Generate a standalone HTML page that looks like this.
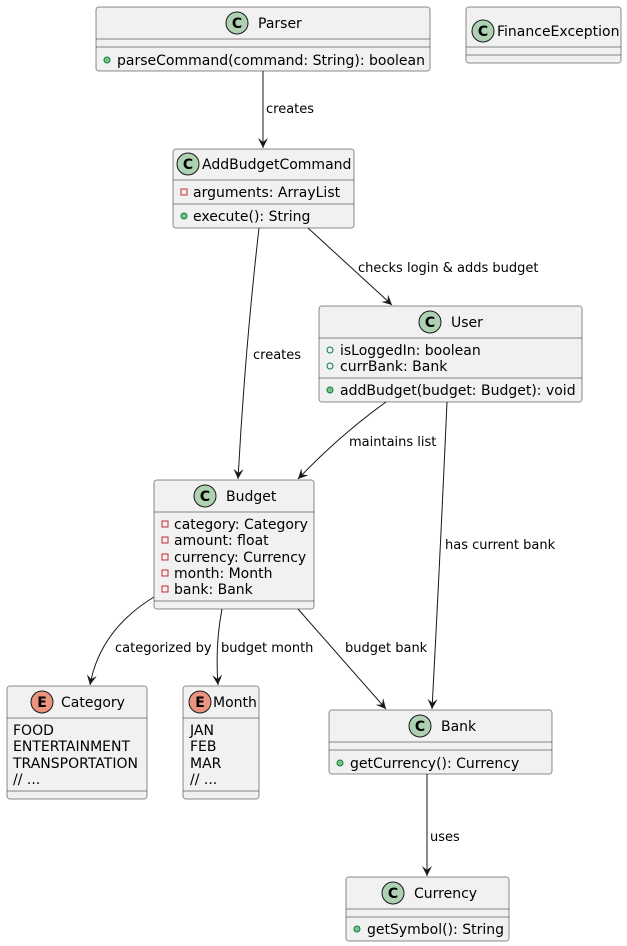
<!DOCTYPE html>
<html><head><meta charset="utf-8"><style>
html,body{margin:0;padding:0;background:#fff;}
svg{display:block;font-family:"DejaVu Sans","Liberation Sans",sans-serif;}
.b{fill:#F1F1F1;stroke:#181818;stroke-width:0.5;}
.l{stroke:#181818;stroke-width:0.5;}
.t{font-size:14px;fill:#000;}
.e{font-size:13px;fill:#000;}
.c{stroke:#181818;stroke-width:1;fill:none;}
.a{fill:#181818;stroke:#181818;stroke-width:1;}
.pub{fill:#84BE84;stroke:#038048;stroke-width:1;}
.pubo{fill:none;stroke:#038048;stroke-width:1;}
.priv{fill:none;stroke:#C82930;stroke-width:1;}
</style></head><body>
<svg width="627" height="946" viewBox="0 0 627 946" xmlns="http://www.w3.org/2000/svg">
<defs>
<marker id="ar" markerWidth="12" markerHeight="12" refX="10" refY="5" orient="auto" markerUnits="userSpaceOnUse">
<path d="M0,0 L10,5 L0,10 L4,5 Z" fill="#181818"/>
</marker>
</defs>

<!-- Parser -->
<rect class="b" x="96" y="7" width="334" height="64" rx="2.5"/>
<circle cx="237" cy="23" r="11" fill="#ADD1B2" stroke="#181818" stroke-width="1"/>
<text x="237" y="28" text-anchor="middle" style="font-size:14px;font-weight:bold">C</text>
<text class="t" x="258" y="28">Parser</text>
<line class="l" x1="96" y1="39" x2="430" y2="39"/>
<line class="l" x1="96" y1="47" x2="430" y2="47"/>
<circle class="pub" cx="107" cy="60" r="3"/>
<text class="t" x="117" y="65">parseCommand(command: String): boolean</text>

<!-- FinanceException -->
<rect class="b" x="466" y="7" width="155" height="56" rx="2.5"/>
<circle cx="483" cy="31" r="11" fill="#ADD1B2" stroke="#181818" stroke-width="1"/>
<text x="483" y="36" text-anchor="middle" style="font-size:14px;font-weight:bold">C</text>
<text class="t" x="497" y="36">FinanceException</text>
<line class="l" x1="466" y1="47" x2="621" y2="47"/>
<line class="l" x1="466" y1="55" x2="621" y2="55"/>

<!-- AddBudgetCommand -->
<rect class="b" x="173" y="149" width="181" height="79" rx="2.5"/>
<circle cx="188" cy="164" r="11" fill="#ADD1B2" stroke="#181818" stroke-width="1"/>
<text x="188" y="169" text-anchor="middle" style="font-size:14px;font-weight:bold">C</text>
<text class="t" x="202" y="169">AddBudgetCommand</text>
<line class="l" x1="173" y1="180" x2="354" y2="180"/>
<rect class="priv" x="181" y="189" width="6" height="6"/>
<text class="t" x="193" y="197">arguments: ArrayList</text>
<line class="l" x1="173" y1="204" x2="354" y2="204"/>
<circle class="pub" cx="184" cy="216" r="3"/>
<text class="t" x="193" y="221">execute(): String</text>

<!-- User -->
<rect class="b" x="319" y="306" width="263" height="96" rx="2.5"/>
<circle cx="430" cy="322" r="11" fill="#ADD1B2" stroke="#181818" stroke-width="1"/>
<text x="430" y="327" text-anchor="middle" style="font-size:14px;font-weight:bold">C</text>
<text class="t" x="451" y="327">User</text>
<line class="l" x1="319" y1="338" x2="582" y2="338"/>
<circle class="pubo" cx="330" cy="350" r="3"/>
<text class="t" x="340" y="355">isLoggedIn: boolean</text>
<circle class="pubo" cx="330" cy="366" r="3"/>
<text class="t" x="340" y="371">currBank: Bank</text>
<line class="l" x1="319" y1="378" x2="582" y2="378"/>
<circle class="pub" cx="330" cy="390" r="3"/>
<text class="t" x="340" y="395">addBudget(budget: Budget): void</text>

<!-- Budget -->
<rect class="b" x="154" y="480" width="160" height="129" rx="2.5"/>
<circle cx="205" cy="496" r="11" fill="#ADD1B2" stroke="#181818" stroke-width="1"/>
<text x="205" y="501" text-anchor="middle" style="font-size:14px;font-weight:bold">C</text>
<text class="t" x="226" y="501">Budget</text>
<line class="l" x1="154" y1="512" x2="314" y2="512"/>
<rect class="priv" x="162" y="521" width="6" height="6"/>
<text class="t" x="174" y="529">category: Category</text>
<rect class="priv" x="162" y="537" width="6" height="6"/>
<text class="t" x="174" y="545">amount: float</text>
<rect class="priv" x="162" y="554" width="6" height="6"/>
<text class="t" x="174" y="562">currency: Currency</text>
<rect class="priv" x="162" y="570" width="6" height="6"/>
<text class="t" x="174" y="578">month: Month</text>
<rect class="priv" x="162" y="586" width="6" height="6"/>
<text class="t" x="174" y="594">bank: Bank</text>
<line class="l" x1="154" y1="601" x2="314" y2="601"/>

<!-- Category -->
<rect class="b" x="7" y="686" width="140" height="113" rx="2.5"/>
<circle cx="42" cy="702" r="11" fill="#EB937F" stroke="#181818" stroke-width="1"/>
<text x="42" y="707" text-anchor="middle" style="font-size:14px;font-weight:bold">E</text>
<text class="t" x="61" y="707">Category</text>
<line class="l" x1="7" y1="718" x2="147" y2="718"/>
<text class="t" x="13" y="735">FOOD</text>
<text class="t" x="13" y="751">ENTERTAINMENT</text>
<text class="t" x="13" y="768">TRANSPORTATION</text>
<text class="t" x="13" y="784">// ...</text>
<line class="l" x1="7" y1="791" x2="147" y2="791"/>

<!-- Month -->
<rect class="b" x="183" y="686" width="76" height="113" rx="2.5"/>
<circle cx="200" cy="702" r="11" fill="#EB937F" stroke="#181818" stroke-width="1"/>
<text x="200" y="707" text-anchor="middle" style="font-size:14px;font-weight:bold">E</text>
<text class="t" x="213" y="707">Month</text>
<line class="l" x1="183" y1="718" x2="259" y2="718"/>
<text class="t" x="190" y="735">JAN</text>
<text class="t" x="190" y="751">FEB</text>
<text class="t" x="190" y="768">MAR</text>
<text class="t" x="190" y="784">// ...</text>
<line class="l" x1="183" y1="791" x2="259" y2="791"/>

<!-- Bank -->
<rect class="b" x="329" y="710" width="223" height="64" rx="2.5"/>
<circle cx="420" cy="726" r="11" fill="#ADD1B2" stroke="#181818" stroke-width="1"/>
<text x="420" y="731" text-anchor="middle" style="font-size:14px;font-weight:bold">C</text>
<text class="t" x="441" y="731">Bank</text>
<line class="l" x1="329" y1="742" x2="552" y2="742"/>
<line class="l" x1="329" y1="750" x2="552" y2="750"/>
<circle class="pub" cx="340" cy="763" r="3"/>
<text class="t" x="350" y="768">getCurrency(): Currency</text>

<!-- Currency -->
<rect class="b" x="346" y="877" width="163" height="64" rx="2.5"/>
<circle cx="393" cy="893" r="11" fill="#ADD1B2" stroke="#181818" stroke-width="1"/>
<text x="393" y="898" text-anchor="middle" style="font-size:14px;font-weight:bold">C</text>
<text class="t" x="414" y="898">Currency</text>
<line class="l" x1="346" y1="909" x2="509" y2="909"/>
<line class="l" x1="346" y1="917" x2="509" y2="917"/>
<circle class="pub" cx="357" cy="929" r="3"/>
<text class="t" x="367" y="934">getSymbol(): String</text>

<!-- Edges -->
<path class="c" d="M263,71 L263,148" marker-end="url(#ar)"/>
<text class="e" x="266" y="113">creates</text>

<path class="c" d="M259,228 Q245,350 238,479" marker-end="url(#ar)"/>
<text class="e" x="253" y="359">creates</text>

<path class="c" d="M308,228 L392,305" marker-end="url(#ar)"/>
<text class="e" x="358" y="272">checks login &amp; adds budget</text>

<path class="c" d="M386,402 Q340,435 298,479" marker-end="url(#ar)"/>
<text class="e" x="349" y="446">maintains list</text>

<path class="c" d="M447,402 Q440,560 432,709" marker-end="url(#ar)"/>
<text class="e" x="445" y="549">has current bank</text>

<path class="c" d="M154,597 Q100,630 90,685" marker-end="url(#ar)"/>
<text class="e" x="115" y="652">categorized by</text>

<path class="c" d="M222,609 Q215,645 218,685" marker-end="url(#ar)"/>
<text class="e" x="221" y="652">budget month</text>

<path class="c" d="M298,609 L386,709" marker-end="url(#ar)"/>
<text class="e" x="345" y="652">budget bank</text>

<path class="c" d="M427,774 L427,876" marker-end="url(#ar)"/>
<text class="e" x="430" y="841">uses</text>
</svg>
</body></html>
